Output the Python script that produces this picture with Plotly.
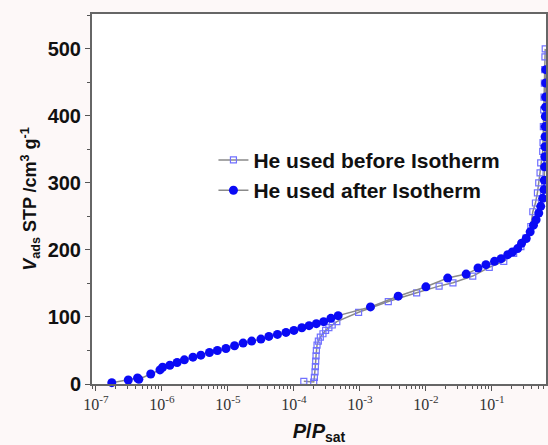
import plotly.graph_objects as go

# "He used after Isotherm" (filled circles): log10(P/Psat), V_ads
after_logp = [-6.76, -6.51, -6.37, -6.35, -6.17, -6.03, -5.99, -5.88, -5.77, -5.66, -5.53,
              -5.41, -5.28, -5.16, -5.03, -4.90, -4.77, -4.64, -4.50, -4.38, -4.25,
              -4.12, -4.00, -3.88, -3.77, -3.66, -3.55, -3.44, -3.33, -2.84, -2.42,
              -2.00, -1.67, -1.39, -1.21, -1.09, -0.96, -0.86, -0.76, -0.69, -0.61,
              -0.55, -0.48, -0.42, -0.37, -0.33, -0.29, -0.26, -0.23, -0.21, -0.205,
              -0.20, -0.198, -0.196, -0.194, -0.192, -0.19, -0.188, -0.186, -0.184, -0.182]
after_v = [2, 6, 9, 7, 15, 21, 25, 28, 32, 36, 40,
           43, 47, 50, 53, 57, 61, 64, 67, 71, 74,
           77, 80, 84, 87, 90, 93, 98, 102, 115, 131,
           145, 158, 164, 173, 178, 183, 187, 193, 197, 202,
           210, 217, 227, 237, 245, 255, 265, 277, 290, 304,
           324, 339, 354, 369, 384, 399, 413, 428, 449, 469]

# "He used before Isotherm" (open squares)
before_logp = [-3.85, -3.70, -3.69, -3.68, -3.675, -3.67, -3.665, -3.66, -3.65, -3.63,
               -3.60, -3.56, -3.52, -3.47, -3.42, -3.35, -3.02, -2.57, -2.14, -1.80,
               -1.59, -1.29, -1.04, -0.82, -0.67, -0.56, -0.48, -0.41, -0.38, -0.34,
               -0.31, -0.29, -0.27, -0.26, -0.23, -0.225, -0.22, -0.215, -0.21, -0.205,
               -0.20, -0.196, -0.192]
before_v = [4, 3, 10, 18, 26, 34, 42, 50, 58, 64,
            70, 75, 80, 84, 88, 93, 107, 123, 136, 146,
            151, 161, 174, 183, 195, 205, 218, 235, 257, 270,
            285, 300, 315, 330, 347, 360, 384, 409, 428, 449,
            469, 488, 500]

after_p = [10 ** v for v in after_logp]
before_p = [10 ** v for v in before_logp]

x_tick_vals = [1e-7, 1e-6, 1e-5, 1e-4, 1e-3, 1e-2, 1e-1]
x_tick_text = ["10<sup>-7</sup>", "10<sup>-6</sup>", "10<sup>-5</sup>", "10<sup>-4</sup>",
               "10<sup>-3</sup>", "10<sup>-2</sup>", "10<sup>-1</sup>"]
minor_vals = [m * 10 ** e for e in range(-8, 0) for m in range(2, 10)]

fig = go.Figure()
fig.add_trace(go.Scatter(
    x=before_p, y=before_v, mode="lines+markers", name="He used before Isotherm",
    line=dict(color="#8a8a8a", width=1.5),
    marker=dict(symbol="square-open", size=6, color="#7070ff", line=dict(width=1.2)),
    cliponaxis=False,
))
fig.add_trace(go.Scatter(
    x=after_p, y=after_v, mode="lines+markers", name="He used after Isotherm",
    line=dict(color="#8a8a8a", width=1.5),
    marker=dict(symbol="circle", size=9, color="#0a0af5"),
    cliponaxis=False,
))

fig.update_layout(
    width=548, height=445,
    margin=dict(l=92, r=0, t=14, b=61),
    paper_bgcolor="#fdf8f8",
    plot_bgcolor="#ffffff",
    showlegend=True,
    legend=dict(
        x=0.2675, y=0.66, xanchor="left", yanchor="top",
        bgcolor="rgba(0,0,0,0)", borderwidth=0,
        font=dict(family="Liberation Sans, Arial", size=21, color="#111111", weight="bold"),
        itemwidth=30, tracegroupgap=0,
    ),
    font=dict(family="Liberation Sans, Arial", color="#111111"),
)

fig.update_xaxes(
    type="log", range=[-7.06, -0.18],
    tickvals=x_tick_vals, ticktext=x_tick_text,
    tickfont=dict(family="Liberation Serif, Times New Roman", size=16, color="#333333"),
    ticks="outside", ticklen=5, tickwidth=1.2, tickcolor="#555555",
    minor=dict(tickvals=minor_vals, ticks="outside", ticklen=3, tickcolor="#555555", showgrid=False),
    showline=True, linecolor="#666666", linewidth=2, mirror=True,
    showgrid=False, zeroline=False,
    title=dict(text="<b><i>P</i>/<i>P</i><sub>sat</sub></b>",
               font=dict(family="Liberation Sans, Arial", size=20, color="#111111"),
               standoff=17),
)
fig.update_yaxes(
    range=[0, 552],
    tickvals=[0, 100, 200, 300, 400, 500],
    tickfont=dict(family="Liberation Sans, Arial", size=20, color="#111111", weight="bold"),
    ticks="outside", ticklen=5, tickwidth=1.2, tickcolor="#555555",
    minor=dict(dtick=50, ticks="outside", ticklen=3, tickcolor="#555555", showgrid=False),
    showline=True, linecolor="#666666", linewidth=2, mirror=True,
    showgrid=False, zeroline=False,
    title=dict(text="<b><i>V</i><sub>ads</sub> STP /cm<sup>3</sup> g<sup>-1</sup></b>",
               font=dict(family="Liberation Sans, Arial", size=18, color="#111111"),
               standoff=6),
)

fig.write_html("out.html")
